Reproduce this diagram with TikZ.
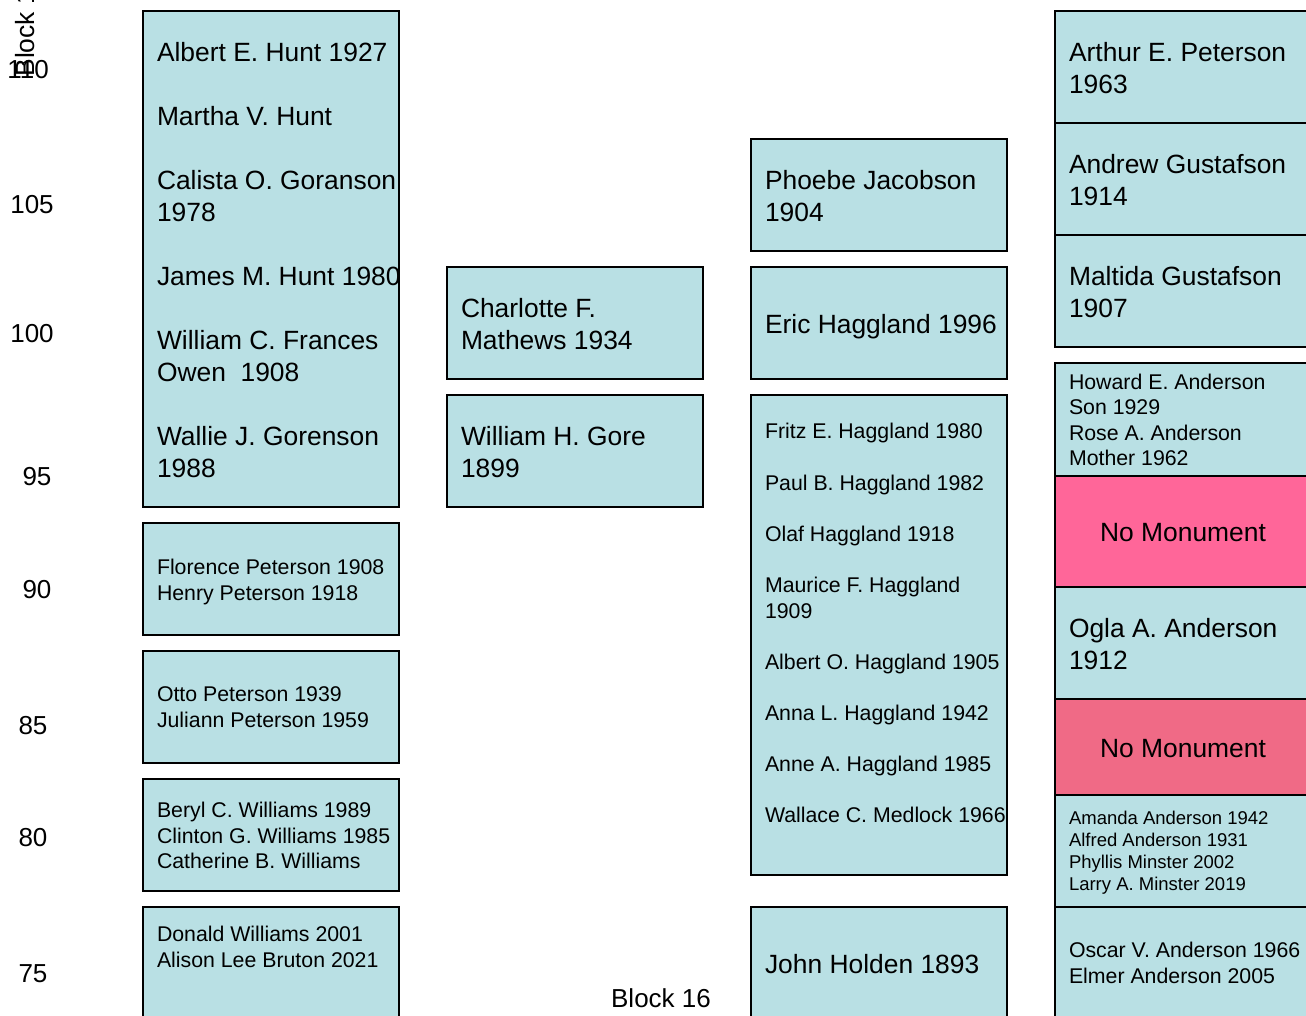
\documentclass[tikz,border=0pt]{standalone}
\usepackage{fontspec}
\setmainfont{Liberation Sans}
\definecolor{plotblue}{RGB}{185,224,228}
\definecolor{pinkA}{RGB}{255,102,153}
\definecolor{pinkB}{RGB}{240,106,134}
\newcommand\fBig{\fontsize{26.4}{32}\selectfont}
\newcommand\fSm{\fontsize{21.3}{25.6}\selectfont}
\newcommand\fTi{\fontsize{18.5}{22.2}\selectfont}
\newcommand\fLab{\fontsize{26}{30}\selectfont}
% box: name, x1, y1, x2, y2, fill
\newcommand\bx[6]{\node[plot, fill=#6, minimum width={#4-#2}, minimum height={#5-#3}] (#1) at ({(#2+#4)/2},{(#3+#5)/2}) {};}
% text line: name, x, baseline y, font, text
\newcommand\tl[5]{\node[txt] (#1) at (#2,#3) {#4#5};}
\tikzset{
  plot/.style={draw=black, line width=2pt, rectangle, inner sep=0pt, outer sep=0pt},
  txt/.style={anchor=base west, inner sep=0pt, outer sep=0pt, yshift=0.7pt},
  lab/.style={anchor=base, inner sep=0pt, outer sep=0pt, font=\fLab}
}
\begin{document}
\begin{tikzpicture}[x=1pt,y=-1pt]
\useasboundingbox (0,0) rectangle (1306,1015);
\clip (0,0) rectangle (1306,1015);
% column 1
\bx{c1a}{143}{11}{399}{507}{plotblue}
\bx{c1b}{143}{523}{399}{635}{plotblue}
\bx{c1c}{143}{651}{399}{763}{plotblue}
\bx{c1d}{143}{779}{399}{891}{plotblue}
\bx{c1e}{143}{907}{399}{1040}{plotblue}
% column 2
\bx{c2a}{447}{267}{703}{379}{plotblue}
\bx{c2b}{447}{395}{703}{507}{plotblue}
% column 3
\bx{c3a}{751}{139}{1007}{251}{plotblue}
\bx{c3b}{751}{267}{1007}{379}{plotblue}
\bx{c3c}{751}{395}{1007}{875}{plotblue}
\bx{c3d}{751}{907}{1007}{1040}{plotblue}
% column 4
\bx{c4a}{1055}{11}{1311}{123}{plotblue}
\bx{c4b}{1055}{123}{1311}{235}{plotblue}
\bx{c4c}{1055}{235}{1311}{347}{plotblue}
\bx{c4d}{1055}{363}{1311}{476}{plotblue}
\bx{c4e}{1055}{476}{1311}{587}{pinkA}
\bx{c4f}{1055}{587}{1311}{699}{plotblue}
\bx{c4g}{1055}{699}{1311}{795}{pinkB}
\bx{c4h}{1055}{795}{1311}{907}{plotblue}
\bx{c4i}{1055}{907}{1311}{1040}{plotblue}
% column 1 texts
\tl{t1}{157}{62}{\fBig}{Albert E. Hunt 1927}
\tl{t2}{157}{126}{\fBig}{Martha V. Hunt}
\tl{t3}{157}{190}{\fBig}{Calista O. Goranson}
\tl{t4}{157}{222}{\fBig}{1978}
\tl{t5}{157}{286}{\fBig}{James M. Hunt 1980}
\tl{t6}{157}{350}{\fBig}{William C. Frances}
\tl{t7}{157}{382}{\fBig}{Owen\ \ 1908}
\tl{t8}{157}{446}{\fBig}{Wallie J. Gorenson}
\tl{t9}{157}{478}{\fBig}{1988}
\tl{t10}{157}{575}{\fSm}{Florence Peterson 1908}
\tl{t11}{157}{601}{\fSm}{Henry Peterson 1918}
\tl{t12}{157}{702}{\fSm}{Otto Peterson 1939}
\tl{t13}{157}{728}{\fSm}{Juliann Peterson 1959}
\tl{t14}{157}{818}{\fSm}{Beryl C. Williams 1989}
\tl{t15}{157}{844}{\fSm}{Clinton G. Williams 1985}
\tl{t16}{157}{869}{\fSm}{Catherine B. Williams}
\tl{t17}{157}{942}{\fSm}{Donald Williams 2001}
\tl{t18}{157}{968}{\fSm}{Alison Lee Bruton 2021}
% column 2 texts
\tl{u1}{461}{318}{\fBig}{Charlotte F.}
\tl{u2}{461}{350}{\fBig}{Mathews 1934}
\tl{u3}{461}{446}{\fBig}{William H. Gore}
\tl{u4}{461}{478}{\fBig}{1899}
% column 3 texts
\tl{v1}{765}{190}{\fBig}{Phoebe Jacobson}
\tl{v2}{765}{222}{\fBig}{1904}
\tl{v3}{765}{334}{\fBig}{Eric Haggland 1996}
\tl{v4}{765}{439}{\fSm}{Fritz E. Haggland 1980}
\tl{v5}{765}{491}{\fSm}{Paul B. Haggland 1982}
\tl{v6}{765}{542}{\fSm}{Olaf Haggland 1918}
\tl{v7}{765}{593}{\fSm}{Maurice F. Haggland}
\tl{v8}{765}{619}{\fSm}{1909}
\tl{v9}{765}{670}{\fSm}{Albert O. Haggland 1905}
\tl{v10}{765}{721}{\fSm}{Anna L. Haggland 1942}
\tl{v11}{765}{772}{\fSm}{Anne A. Haggland 1985}
\tl{v12}{765}{823}{\fSm}{Wallace C. Medlock 1966}
\tl{v13}{765}{974}{\fBig}{John Holden 1893}
% column 4 texts
\tl{w1}{1069}{62}{\fBig}{Arthur E. Peterson}
\tl{w2}{1069}{94}{\fBig}{1963}
\tl{w3}{1069}{174}{\fBig}{Andrew Gustafson}
\tl{w4}{1069}{206}{\fBig}{1914}
\tl{w5}{1069}{286}{\fBig}{Maltida Gustafson}
\tl{w6}{1069}{318}{\fBig}{1907}
\tl{w7}{1069}{390}{\fSm}{Howard E. Anderson}
\tl{w8}{1069}{415.5}{\fSm}{Son 1929}
\tl{w9}{1069}{441}{\fSm}{Rose A. Anderson}
\tl{w10}{1069}{466.5}{\fSm}{Mother 1962}
\node[anchor=base, inner sep=0pt, font=\fBig, yshift=0.7pt] (w11) at (1183,542) {No Monument};
\tl{w12}{1069}{638}{\fBig}{Ogla A. Anderson}
\tl{w13}{1069}{670}{\fBig}{1912}
\node[anchor=base, inner sep=0pt, font=\fBig, yshift=0.7pt] (w14) at (1183,758) {No Monument};
\tl{w15}{1069}{825}{\fTi}{Amanda Anderson 1942}
\tl{w16}{1069}{847}{\fTi}{Alfred Anderson 1931}
\tl{w17}{1069}{869}{\fTi}{Phyllis Minster 2002}
\tl{w18}{1069}{891.5}{\fTi}{Larry A. Minster 2019}
\tl{w19}{1069}{958}{\fSm}{Oscar V. Anderson 1966}
\tl{w20}{1069}{984}{\fSm}{Elmer Anderson 2005}
% axis labels
\node[lab] (y110) at (28,78) {110};
\node[lab] (y105) at (32,213) {105};
\node[lab] (y100) at (32,342) {100};
\node[lab] (y95) at (37,485) {95};
\node[lab] (y90) at (37,598) {90};
\node[lab] (y85) at (33,734) {85};
\node[lab] (y80) at (33,846) {80};
\node[lab] (y75) at (33,982) {75};
\node[lab] (blk16) at (661,1007) {Block 16};
\node[anchor=base west, inner sep=0pt, outer sep=0pt, font=\fBig, rotate=90] (blkrot) at (34,76.5) {Block 16};
\end{tikzpicture}
\end{document}
